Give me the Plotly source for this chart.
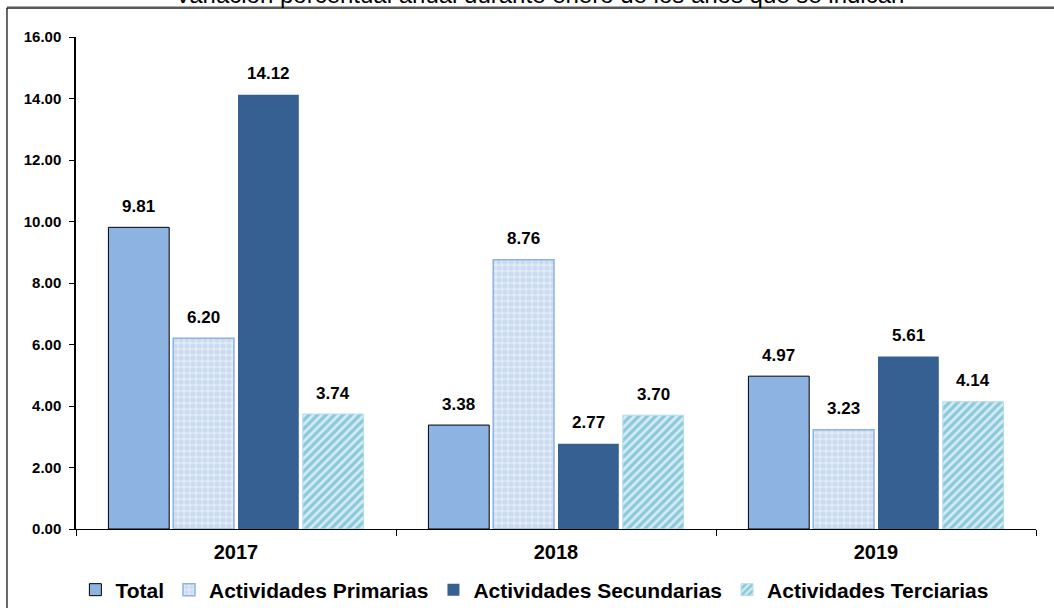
import plotly.graph_objects as go

years = ["2017", "2018", "2019"]
series_names = ["Total", "Actividades Primarias", "Actividades Secundarias", "Actividades Terciarias"]
total = [9.81, 3.38, 4.97]
primarias = [6.20, 8.76, 3.23]
secundarias = [14.12, 2.77, 5.61]
terciarias = [3.74, 3.70, 4.14]
title_text = "Variación porcentual anual durante enero de los años que se indican"

FONT = "Arial, Liberation Sans, sans-serif"
values = [total, primarias, secundarias, terciarias]

styles = [
    dict(color="#8DB3E2", line=dict(color="#000000", width=1)),
    dict(color="#E2EBF7", line=dict(color="#8DB3E2", width=1.5),
         pattern=dict(shape=".", fgcolor="#B4CBEA", bgcolor="#E2EBF7", size=6, solidity=0.6)),
    dict(color="#376092", line=dict(color="#376092", width=0)),
    dict(color="#DAEEF3", line=dict(color="#B7DEE8", width=1),
         pattern=dict(shape="/", fgcolor="#3FA6C2", bgcolor="#D6ECF3", size=6, solidity=0.55)),
]

fig = go.Figure()
for name, vals, st in zip(series_names, values, styles):
    fig.add_trace(go.Bar(name=f"<b>{name}</b>", x=years, y=vals, marker=st, hoverinfo="skip"))

bargap = 0.19
slot = (1 - bargap) / 4
for i, vals in enumerate(values):
    off = (i - 1.5) * slot
    for j, v in enumerate(vals):
        fig.add_annotation(x=j + off, y=v, xref="x", yref="y", text=f"<b>{v:.2f}</b>",
                           showarrow=False, yanchor="middle", yshift=21,
                           font=dict(family=FONT, size=17, color="#000000"))

fig.add_annotation(x=0.483, y=1.0549, xref="paper", yref="paper", text=title_text,
                   showarrow=False, xanchor="center", yanchor="bottom",
                   font=dict(family=FONT, size=24, color="#000000"))

# outer frame lines
fig.add_shape(type="line", xref="paper", yref="paper", x0=-0.0719, x1=1.02, y0=1.0595, y1=1.0595,
              line=dict(color="#595959", width=2.5))
fig.add_shape(type="line", xref="paper", yref="paper", x0=-0.0719, x1=-0.0719, y0=1.0595, y1=-0.25,
              line=dict(color="#000000", width=1.2))

fig.update_layout(
    width=1054, height=608,
    margin=dict(l=76, r=18, t=37, b=79, autoexpand=False),
    paper_bgcolor="#FFFFFF", plot_bgcolor="#FFFFFF",
    barmode="group", bargap=bargap, bargroupgap=0.062,
    font=dict(family=FONT, color="#000000"),
    showlegend=True,
    legend=dict(orientation="h", x=0.478, xanchor="center", y=-0.124, yanchor="middle",
                font=dict(family=FONT, size=21, color="#000000"), itemwidth=30,
                traceorder="normal", bgcolor="rgba(0,0,0,0)"),
)

fig.update_xaxes(type="category", showline=True, linecolor="#000000", linewidth=1,
                 ticks="outside", tickson="boundaries", ticklen=6, tickcolor="#000000",
                 tickfont=dict(family=FONT, size=20, color="#000000"),
                 ticklabelstandoff=5, automargin=False,
                 tickvals=years, ticktext=[f"<b>{y}</b>" for y in years],
                 showgrid=False, zeroline=False)
fig.update_yaxes(range=[0, 16], dtick=2, tick0=0, tickformat=".2f", showline=True,
                 linecolor="#000000", linewidth=1.5, ticks="outside", ticklen=5,
                 tickcolor="#000000", showgrid=False, zeroline=False, automargin=False,
                 tickfont=dict(family=FONT, size=15, color="#000000"),
                 ticklabelstandoff=5,
                 tickprefix="<b>", ticksuffix="</b>")

fig.write_html("out.html", config={"displayModeBar": False},
               post_script="document.body.style.margin='0';document.body.style.overflow='hidden';")
